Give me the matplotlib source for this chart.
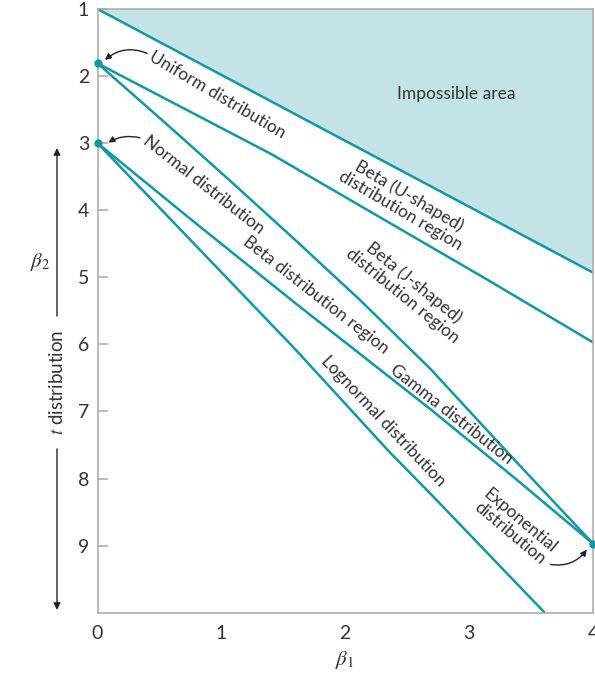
import matplotlib
matplotlib.use("Agg")
import matplotlib.pyplot as plt

plt.rcParams["font.family"] = ["Lato", "DejaVu Sans"]
plt.rcParams["mathtext.fontset"] = "stix"

# data (beta1, beta2)
impossible_b1 = [0, 4]
impossible_b2 = [1.0, 4.93]

beta_u_b1 = [0, 1.4, 3.17, 4]
beta_u_b2 = [1.81, 3.16, 5.06, 5.97]

beta_j_b1 = [0, 0.56, 1.07, 1.6, 2.12, 2.69, 3.36, 4]
beta_j_b2 = [1.81, 2.72, 3.56, 4.45, 5.34, 6.37, 7.71, 8.97]

gamma_b1 = [0, 0.79, 1.6, 2.69, 3.36, 4]
gamma_b2 = [3.0, 4.19, 5.39, 6.97, 7.98, 8.97]

lognorm_b1 = [0, 0.79, 1.6, 2.36, 2.69, 3.61]
lognorm_b2 = [3.0, 4.52, 6.08, 7.61, 8.23, 10.0]

point_names = ["Uniform", "Normal", "Exponential"]
point_b1 = [0, 0, 4]
point_b2 = [1.81, 3.0, 8.97]

x_ticks = [0, 1, 2, 3, 4]
y_ticks = [1, 2, 3, 4, 5, 6, 7, 8, 9]

teal = "#1198a4"
fill_col = "#c3e3e7"
txt_col = "#333333"
grey = "#a8a8a8"

fig = plt.figure(figsize=(5.95, 6.77), dpi=100)
ax = fig.add_axes([0.1639, 0.0950, 0.8327, 0.8917])

ax.fill_between(impossible_b1, impossible_b2, 1, color=fill_col, lw=0)
for xs, ys in [(impossible_b1, impossible_b2), (beta_u_b1, beta_u_b2),
               (beta_j_b1, beta_j_b2), (gamma_b1, gamma_b2),
               (lognorm_b1, lognorm_b2)]:
    ax.plot(xs, ys, color=teal, lw=1.8, solid_capstyle="butt")
ax.plot(point_b1, point_b2, "o", color=teal, ms=5, clip_on=False, zorder=5)

ax.set_xlim(0, 4)
ax.set_ylim(10, 1)
ax.set_xticks(x_ticks)
ax.set_yticks(y_ticks)
ax.tick_params(axis="x", length=0, pad=9, labelsize=14, labelcolor=txt_col)
ax.tick_params(axis="y", direction="in", length=7.5, width=1.1, color=grey,
               pad=6, labelsize=14, labelcolor=txt_col)
for s in ax.spines.values():
    s.set_color(grey)
    s.set_linewidth(1.1)

# labels along the lines
fs = 12.5
def label(x, y, s, rot):
    ax.text(x, y, s, rotation=rot, ha="center", va="center", fontsize=fs,
            color=txt_col, multialignment="center", rotation_mode="anchor",
            linespacing=1.05)

ax.text(2.90, 2.27, "Impossible area", ha="center", va="center", fontsize=fs, color=txt_col)
label(0.97, 2.29, "Uniform distribution", -30.5)
label(0.86, 3.62, "Normal distribution", -38)
label(1.765, 5.26, "Beta distribution region", -38)
label(2.48, 3.90, "Beta (U-shaped)\ndistribution region", -30.5)
label(2.51, 5.18, "Beta (J-shaped)\ndistribution region", -39)
label(2.86, 7.04, "Gamma distribution", -38)
label(2.31, 7.15, "Lognormal distribution", -46.5)
label(3.37, 8.72, "Exponential\ndistribution", -40)

# pointer arrows
ap = dict(arrowstyle="-|>", color="#222222", lw=1.0, mutation_scale=9,
          shrinkA=0, shrinkB=0)
ax.annotate("", xy=(0.06, 1.76), xytext=(0.40, 1.66),
            arrowprops=dict(ap, connectionstyle="arc3,rad=0.3"))
ax.annotate("", xy=(0.087, 2.99), xytext=(0.343, 2.92),
            arrowprops=dict(ap, connectionstyle="arc3,rad=0.2"))
ax.annotate("", xy=(3.95, 9.06), xytext=(3.655, 9.28),
            arrowprops=dict(ap, connectionstyle="arc3,rad=0.3"))

# axis titles
fig.text(345 / 595, 1 - 660 / 677, r"$\beta_1$", ha="center", va="center",
         fontsize=15, color=txt_col)
fig.text(40 / 595, 1 - 262 / 677, r"$\beta_2$", ha="center", va="center",
         fontsize=15, color=txt_col)
fig.text(57 / 595, 1 - 382 / 677, r"$t$ distribution", rotation=90,
         ha="center", va="center", fontsize=13.5, color=txt_col)
tap = dict(arrowstyle="-|>", color="#222222", lw=1.0, mutation_scale=10,
           shrinkA=0, shrinkB=0)
fig.add_artist(matplotlib.patches.FancyArrowPatch(
    (57 / 595, 1 - 316 / 677), (57 / 595, 1 - 148 / 677),
    transform=fig.transFigure, **tap))
fig.add_artist(matplotlib.patches.FancyArrowPatch(
    (57 / 595, 1 - 449 / 677), (57 / 595, 1 - 610 / 677),
    transform=fig.transFigure, **tap))

fig.savefig("out.png", dpi=100)
